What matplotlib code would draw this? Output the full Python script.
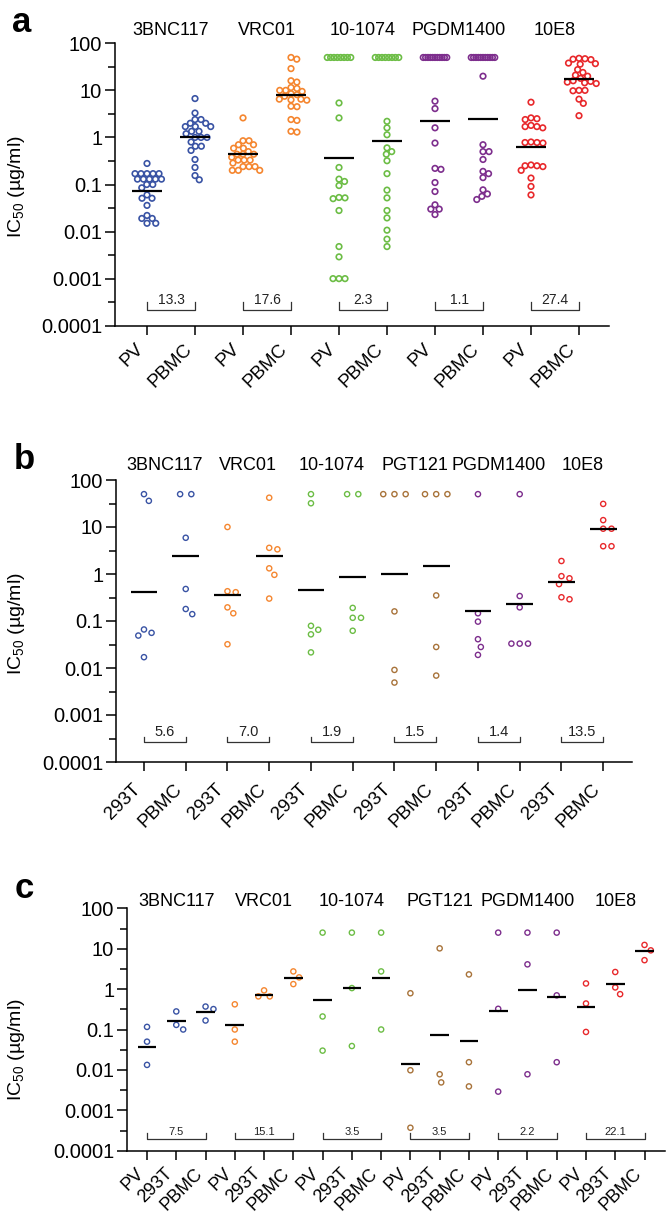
import numpy as np
import matplotlib
matplotlib.use("Agg")
import matplotlib.pyplot as plt
import matplotlib.transforms as mtransforms
from matplotlib.ticker import FixedLocator, NullFormatter

plt.rcParams['font.family'] = ['Liberation Sans', 'DejaVu Sans']
plt.rcParams['mathtext.fontset'] = 'custom'
plt.rcParams['mathtext.rm'] = 'Liberation Sans'
plt.rcParams['mathtext.default'] = 'rm'

# ---------------- data (IC50, ug/ml) ----------------
y_ticks = [1e-4, 1e-3, 0.01, 0.1, 1, 10, 100]
y_ticklabels = ["0.0001", "0.001", "0.01", "0.1", "1", "10", "100"]

colors = {"3BNC117": "#3953a4", "VRC01": "#f5862f", "10-1074": "#6cbd45",
          "PGT121": "#a8733a", "PGDM1400": "#7d2e8d", "10E8": "#e8282b"}

# panel a: PV vs PBMC
a_antibodies = ["3BNC117", "VRC01", "10-1074", "PGDM1400", "10E8"]
a_conditions = ["PV", "PBMC"]
a_3bnc117 = [[0.28, 0.17, 0.17, 0.17, 0.17, 0.17, 0.13, 0.13, 0.13, 0.13, 0.13, 0.1, 0.1,
              0.085, 0.06, 0.051, 0.051, 0.036, 0.022, 0.019, 0.019, 0.015, 0.015],
             [6.7, 3.3, 2.4, 2.4, 2.0, 2.0, 1.7, 1.7, 1.7, 1.35, 1.35, 1.2, 1.0, 1.0, 1.0,
              0.8, 0.65, 0.65, 0.53, 0.34, 0.23, 0.155, 0.126]]
a_vrc01 = [[2.6, 0.85, 0.85, 0.7, 0.7, 0.59, 0.59, 0.5, 0.44, 0.44, 0.44, 0.38, 0.33, 0.33,
            0.33, 0.285, 0.24, 0.24, 0.24, 0.2, 0.2, 0.2],
           [50, 46, 29, 16, 15, 11.5, 11, 10, 10, 9.5, 8.5, 8.1, 7.5, 6.5, 6.5, 6.3, 6.2,
            4.6, 4.5, 2.4, 2.3, 1.35, 1.3]]
a_101074 = [[50, 50, 50, 50, 50, 50, 50, 50, 5.4, 2.6, 0.23, 0.13, 0.116, 0.095, 0.053,
             0.052, 0.05, 0.028, 0.0048, 0.0029, 0.001, 0.001, 0.001],
            [50, 50, 50, 50, 50, 50, 50, 50, 2.2, 1.6, 1.14, 0.6, 0.5, 0.44, 0.32, 0.17,
             0.076, 0.052, 0.028, 0.0195, 0.0107, 0.0069, 0.0048]]
a_pgdm1400 = [[50, 50, 50, 50, 50, 50, 50, 50, 50, 50, 50, 5.9, 4.1, 1.6, 0.76, 0.22, 0.21,
               0.11, 0.071, 0.037, 0.03, 0.03, 0.023],
              [50, 50, 50, 50, 50, 50, 50, 50, 50, 50, 50, 20, 0.7, 0.5, 0.5, 0.34, 0.19,
               0.17, 0.14, 0.077, 0.063, 0.056, 0.048]]
a_10e8 = [[5.6, 2.6, 2.5, 2.4, 1.8, 1.7, 1.7, 1.6, 0.8, 0.78, 0.78, 0.76, 0.26, 0.25, 0.25,
           0.24, 0.2, 0.137, 0.091, 0.06],
          [48, 47, 46, 45, 38, 37, 36, 27.6, 24, 21, 20, 18, 16, 15.5, 15, 14.5, 14, 10, 10,
           9.8, 6.5, 5.3, 2.9]]
a_groups = [a_3bnc117, a_vrc01, a_101074, a_pgdm1400, a_10e8]
a_medians = [0.073, 1.0, 0.44, 7.8, 0.36, 0.82, 2.2, 2.45, 0.62, 17.6]
a_fold = ["13.3", "17.6", "2.3", "1.1", "27.4"]

# panel b: 293T vs PBMC
b_antibodies = ["3BNC117", "VRC01", "10-1074", "PGT121", "PGDM1400", "10E8"]
b_conditions = ["293T", "PBMC"]
b_3bnc117 = [[50, 36, 0.066, 0.056, 0.049, 0.017], [50, 50, 5.9, 0.48, 0.18, 0.14]]
b_vrc01 = [[10, 0.43, 0.41, 0.195, 0.146, 0.032], [42, 3.6, 3.35, 1.32, 0.96, 0.30]]
b_101074 = [[50, 32, 0.079, 0.065, 0.052, 0.0215], [50, 50, 0.19, 0.117, 0.117, 0.062]]
b_pgt121 = [[50, 50, 50, 0.16, 0.0091, 0.0049], [50, 50, 50, 0.35, 0.028, 0.0069]]
b_pgdm1400 = [[50, 0.146, 0.097, 0.041, 0.028, 0.019], [50, 0.34, 0.195, 0.033, 0.033, 0.033]]
b_10e8 = [[1.89, 0.9, 0.81, 0.61, 0.32, 0.29], [31, 14, 9.2, 9.2, 3.9, 3.9]]
b_groups = [b_3bnc117, b_vrc01, b_101074, b_pgt121, b_pgdm1400, b_10e8]
b_medians = [0.42, 2.4, 0.35, 2.45, 0.46, 0.88, 1.0, 1.48, 0.16, 0.226, 0.68, 9.2]
b_fold = ["5.6", "7.0", "1.9", "1.5", "1.4", "13.5"]

# panel c: PV vs 293T vs PBMC
c_antibodies = ["3BNC117", "VRC01", "10-1074", "PGT121", "PGDM1400", "10E8"]
c_conditions = ["PV", "293T", "PBMC"]
c_3bnc117 = [[0.116, 0.05, 0.0133], [0.28, 0.13, 0.1], [0.37, 0.32, 0.167]]
c_vrc01 = [[0.42, 0.1, 0.05], [0.93, 0.66, 0.66], [2.74, 1.95, 1.33]]
c_101074 = [[25, 0.21, 0.03], [25, 1.06, 0.039], [25, 2.74, 0.1]]
c_pgt121 = [[0.79, 0.0098, 0.00037], [10.2, 0.0078, 0.0049], [2.31, 0.0155, 0.0039]]
c_pgdm1400 = [[25, 0.325, 0.0029], [25, 4.1, 0.0078], [25, 0.70, 0.0155]]
c_10e8 = [[1.38, 0.44, 0.087], [2.65, 1.1, 0.75], [12.4, 9.1, 5.2]]
c_groups = [c_3bnc117, c_vrc01, c_101074, c_pgt121, c_pgdm1400, c_10e8]
c_medians = [0.036, 0.158, 0.27, 0.126, 0.73, 1.9, 0.53, 1.04, 1.9,
             0.0144, 0.072, 0.052, 0.295, 0.93, 0.63, 0.37, 1.33, 8.6]
c_fold = ["7.5", "15.1", "3.5", "3.5", "2.2", "22.1"]


def swarm(ys, d, placed):
    # beeswarm offsets (pixels) for pixel heights ys, avoiding already placed points
    placed = list(placed)
    offs = np.zeros(len(ys))
    for i in np.argsort(-np.asarray(ys), kind='stable'):
        y = ys[i]
        cands = [0.0]
        for px, py in placed:
            dy = abs(py - y)
            if dy < d:
                dx = np.sqrt(d * d - dy * dy)
                cands += [px + dx, px - dx]
        cands.sort(key=lambda c: (round(abs(c), 6), -c))
        for c in cands:
            if all((c - px) ** 2 + (y - py) ** 2 >= d * d - 1e-6 for px, py in placed):
                break
        placed.append((c, y))
        offs[i] = c
    return offs


def draw_panel(ax, antibodies, conditions, groups, medians, folds, cap, xlim,
               d, cap_w, ms, lw, br, fold_size, xt_size, xt_pad, name_y):
    nc = len(conditions)
    n = len(antibodies) * nc
    ax.set_yscale('log')
    ax.set_ylim(1e-4, 100)
    ax.set_xlim(*xlim)
    trans = mtransforms.blended_transform_factory(ax.transData, ax.transAxes)
    for i, ab in enumerate(antibodies):
        for c in range(nc):
            k = i * nc + c
            vals = np.array(groups[i][c], dtype=float)
            pts = ax.transData.transform(np.column_stack([np.full(len(vals), k), vals]))
            is_cap = vals >= cap
            offs = np.zeros(len(vals))
            placed = []
            m = is_cap.sum()
            if m > 0:
                step = d if m == 1 else min(d * 1.35, cap_w / (m - 1))
                co = (np.arange(m) - (m - 1) / 2) * step
                offs[is_cap] = co
                placed = [(o, pts[is_cap, 1][0]) for o in co]
            free = ~is_cap
            if free.any():
                offs[free] = swarm(pts[free, 1], d, placed)
            xs = ax.transData.inverted().transform(
                np.column_stack([pts[:, 0] + offs, pts[:, 1]]))[:, 0]
            ax.scatter(xs, vals, s=ms, facecolors='none', edgecolors=colors[ab],
                       linewidths=lw, zorder=2, clip_on=False)
            ax.hlines(medians[k], k - 0.32, k + 0.32, color='black', lw=1.6, zorder=3)
        # fold-change bracket
        k0, k1 = i * nc, i * nc + nc - 1
        base, top, ty = br
        ax.plot([k0, k0, k1, k1], [top, base, base, top], color='#333333', lw=0.9,
                zorder=1, clip_on=False)
        ax.text((k0 + k1) / 2, ty, folds[i], ha='center', va='center',
                fontsize=fold_size, color='#222222')
        ax.text((k0 + k1) / 2, name_y, ab, transform=trans, ha='center', va='center',
                fontsize=13)

    ax.set_xticks(range(n))
    ax.set_xticklabels(conditions * len(antibodies), rotation=45, ha='right',
                       va='top', fontsize=xt_size)
    ax.yaxis.set_major_locator(FixedLocator(y_ticks))
    ax.set_yticklabels(y_ticklabels, fontsize=14.5)
    ax.yaxis.set_minor_locator(FixedLocator([10 ** (e + 0.5) for e in range(-4, 2)]))
    ax.yaxis.set_minor_formatter(NullFormatter())
    for s in ['top', 'right']:
        ax.spines[s].set_visible(False)
    for s in ['left', 'bottom']:
        ax.spines[s].set_linewidth(1.1)
    ax.tick_params(axis='y', which='major', length=7.2, width=1.1, pad=2)
    ax.tick_params(axis='y', which='minor', length=4.8, width=1.1)
    ax.tick_params(axis='x', which='major', length=6.5, width=1.1, pad=xt_pad)


W, H = 666, 1227
fig = plt.figure(figsize=(W / 100, H / 100), dpi=100)


def add_axes(left, right, top, bottom):
    return fig.add_axes([left / W, 1 - bottom / H, (right - left) / W, (bottom - top) / H])


ax_a = add_axes(115, 609, 43.3, 325.7)
ax_b = add_axes(116, 632, 480, 762)
ax_c = add_axes(127, 665, 908.3, 1150.7)

draw_panel(ax_a, a_antibodies, a_conditions, a_groups, a_medians, a_fold, 50,
           (-0.667, 9.625), 6.0, 23.5, 16, 1.2, (2.2e-4, 3.2e-4, 3.6e-4), 10, 13.5, 4, 1.047)
draw_panel(ax_b, b_antibodies, b_conditions, b_groups, b_medians, b_fold, 50,
           (-0.67, 11.69), 8.3, 23.5, 14, 1.0, (2.67e-4, 3.4e-4, 4.35e-4), 10.5, 13.5, 7, 1.053)
draw_panel(ax_c, c_antibodies, c_conditions, c_groups, c_medians, c_fold, 25,
           (-0.684, 17.7), 8.3, 23.5, 14, 1.0, (1.95e-4, 2.75e-4, 2.95e-4), 8, 13, 4, 1.026)

for lab, (x, y) in zip("abc", [(22, 22), (24, 460), (24, 889)]):
    fig.text(x / W, 1 - y / H, lab, fontsize=25, fontweight='bold', ha='center', va='center')
for x, y in [(17, 187), (17, 624), (17, 1050)]:
    fig.text(x / W, 1 - y / H, r"IC$_{50}$ (µg/ml)", fontsize=14, rotation=90,
             ha='center', va='center')

fig.savefig("out.png", dpi=100)
